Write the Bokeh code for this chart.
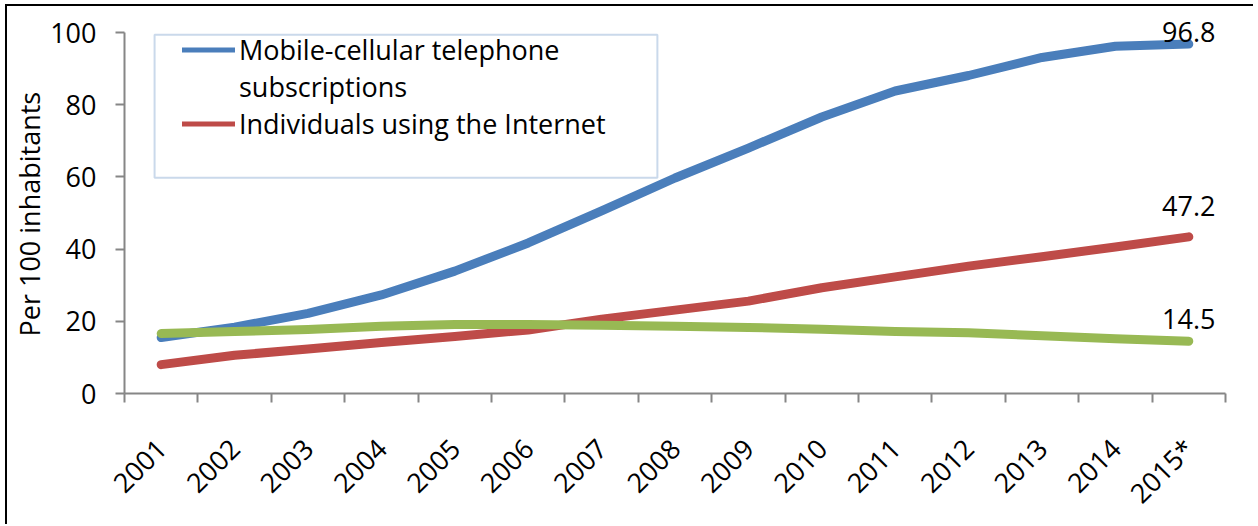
import math
from bokeh.plotting import figure
from bokeh.models import (FixedTicker, Legend, LegendItem, ColumnDataSource, Range1d,
                          BoxAnnotation, LabelSet, Title)
from bokeh.core.properties import value
from bokeh.embed import file_html
from bokeh.resources import INLINE

years = ["2001", "2002", "2003", "2004", "2005", "2006", "2007", "2008",
         "2009", "2010", "2011", "2012", "2013", "2014", "2015*"]
mobile = [15.5, 18.4, 22.2, 27.3, 33.9, 41.7, 50.6, 59.7, 68.0, 76.6, 83.8, 88.1, 93.1, 96.2, 96.8]
internet = [8.0, 10.6, 12.3, 14.1, 15.8, 17.6, 20.6, 23.1, 25.6, 29.3, 32.3, 35.3, 37.9, 40.6, 43.4]
fixed = [16.6, 17.2, 17.7, 18.6, 19.1, 19.1, 18.9, 18.6, 18.3, 17.8, 17.2, 16.8, 16.0, 15.2, 14.5]
end_labels = ["96.8", "47.2", "14.5"]
legend_lines = ["Mobile-cellular telephone", "subscriptions", "Individuals using the Internet"]
y_ticks = [0, 20, 40, 60, 80, 100]
y_title = "Per 100 inhabitants"

FONT = "Open Sans"
BLUE, RED, GREEN = "#4A7EBB", "#BE4B48", "#98B954"
AXIS = "#868686"

xs = [i + 0.5 for i in range(len(years))]

p = figure(width=1248, height=520, output_backend="svg", toolbar_location=None,
           x_range=Range1d(0, len(years)), y_range=Range1d(0, 105),
           min_border_left=117, min_border_top=8, min_border_right=30, min_border_bottom=125)
p.styles = {"border-left": "2px solid black", "border-top": "2px solid black",
            "margin-left": "5px", "margin-top": "4px"}
p.outline_line_color = None
p.xgrid.visible = False
p.ygrid.visible = False

lw = 9
p.line(xs, mobile, line_width=lw, line_color=BLUE, line_cap="round", line_join="round")
p.line(xs, internet, line_width=lw, line_color=RED, line_cap="round", line_join="round")
p.line(xs, fixed, line_width=lw, line_color=GREEN, line_cap="round", line_join="round")

# legend swatches: single-point lines (draw nothing in the plot, only the legend glyph)
sw_mob = p.line(x=xs[:1], y=mobile[:1], line_width=5, line_color=BLUE, line_cap="round")
sw_int = p.line(x=xs[:1], y=internet[:1], line_width=5, line_color=RED, line_cap="round")
sw_none = p.line(x=xs[:1], y=fixed[:1], line_alpha=0)

last = len(years) - 1
lab_src = ColumnDataSource(dict(x=[xs[last]] * 3, y=[mobile[last], internet[last], fixed[last]],
                                t=end_labels, off=[2, 21, 12]))
p.add_layout(LabelSet(x="x", y="y", text="t", y_offset="off", source=lab_src,
                      text_align="center", text_baseline="alphabetic",
                      text_font=value(FONT), text_font_size="27px", text_color="black"))

# x axis: labels at category centres, tick marks at category boundaries
p.xaxis.ticker = FixedTicker(ticks=xs, minor_ticks=list(range(len(years) + 1)))
p.xaxis.major_label_overrides = {x: y for x, y in zip(xs, years)}
p.xaxis.major_tick_out = 0
p.xaxis.major_tick_in = 0
p.xaxis.minor_tick_out = 9
p.xaxis.minor_tick_in = 0
p.xaxis.major_label_orientation = math.pi / 4
p.xaxis.major_label_text_font = FONT
p.xaxis.major_label_text_font_size = "27px"
p.xaxis.major_label_text_color = "black"
p.xaxis.major_label_standoff = 41

p.yaxis.ticker = FixedTicker(ticks=y_ticks, minor_ticks=[])
p.yaxis.bounds = (y_ticks[0], y_ticks[-1])
p.yaxis.major_tick_out = 9
p.yaxis.major_tick_in = 0
p.yaxis.minor_tick_out = 0
p.yaxis.major_label_text_font = FONT
p.yaxis.major_label_text_font_size = "27px"
p.yaxis.major_label_text_color = "black"
p.yaxis.major_label_standoff = 19

for ax in (p.xaxis, p.yaxis):
    ax.axis_line_color = AXIS
    ax.axis_line_width = 2
    ax.major_tick_line_color = AXIS
    ax.major_tick_line_width = 2
    ax.minor_tick_line_color = AXIS
    ax.minor_tick_line_width = 2

# y-axis title, centred on the 0-100 part of the axis
p.add_layout(Title(text=y_title, align="left", offset=57, standoff=0,
                   text_font=FONT, text_font_size="27px", text_font_style="normal",
                   text_color="black"), "left")

# legend frame
p.add_layout(BoxAnnotation(left=0.41, right=7.26, top=99.4, bottom=59.8,
                           fill_color="white", fill_alpha=1.0,
                           line_color="#4F81BD", line_width=2, level="underlay"))

legend = Legend(items=[LegendItem(label=legend_lines[0], renderers=[sw_mob]),
                       LegendItem(label=legend_lines[1], renderers=[sw_none]),
                       LegendItem(label=legend_lines[2], renderers=[sw_int])],
                location=(58, 251))
legend.label_text_font = FONT
legend.label_text_font_size = "27px"
legend.label_text_color = "black"
legend.label_height = 35
legend.glyph_height = 35
legend.glyph_width = 53
legend.label_standoff = 4
legend.border_line_color = None
legend.background_fill_alpha = 0
legend.padding = 0
legend.spacing = 0
legend.margin = 0
p.add_layout(legend)

open("out.html", "w").write(file_html(p, INLINE))
